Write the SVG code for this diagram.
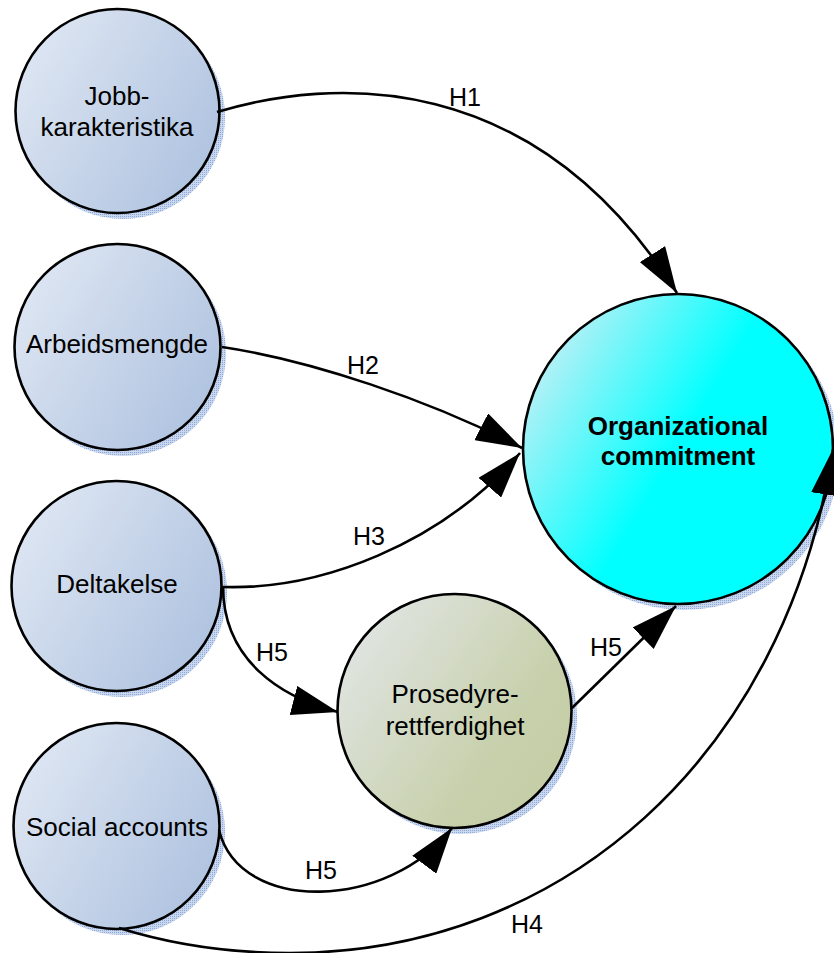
<svg xmlns="http://www.w3.org/2000/svg" width="834" height="953" viewBox="0 0 834 953">
<style>
.node{stroke:#000;stroke-width:2.6}
.shadow{fill:url(#dots);stroke:none}
.t{font-family:"Liberation Sans",Arial,sans-serif;font-size:26px;fill:#000;text-anchor:middle}
.tb{font-family:"Liberation Sans",Arial,sans-serif;font-size:26px;font-weight:bold;fill:#000;text-anchor:middle}
.lbl{font-family:"Liberation Sans",Arial,sans-serif;font-size:25px;fill:#000}
.edge{fill:none;stroke:#000;stroke-width:2.6;marker-end:url(#arr)}
</style>
<defs>
<pattern id="dots" width="2" height="2" patternUnits="userSpaceOnUse">
<rect width="2" height="2" fill="#c9d7ef"/>
<rect width="1" height="1" fill="#8ea8d8"/>
</pattern>
<linearGradient id="gBlue" x1="0" y1="0.2" x2="1" y2="0.8">
<stop offset="0" stop-color="#dfe7f3"/>
<stop offset="1" stop-color="#adc1df"/>
</linearGradient>
<linearGradient id="gCyan" x1="0.05" y1="0.15" x2="0.8" y2="0.6">
<stop offset="0" stop-color="#c6eff5"/>
<stop offset="0.65" stop-color="#00ffff"/>
<stop offset="1" stop-color="#00ffff"/>
</linearGradient>
<linearGradient id="gOlive" x1="0" y1="0.15" x2="1" y2="0.85">
<stop offset="0" stop-color="#e2e6e6"/>
<stop offset="0.7" stop-color="#c7d0ab"/>
<stop offset="1" stop-color="#c3cda5"/>
</linearGradient>
<marker id="arr" viewBox="0 0 46 30" refX="46" refY="15" markerWidth="46" markerHeight="30" markerUnits="userSpaceOnUse" orient="auto">
<path d="M0,0 L46,15 L0,30 z" fill="#000"/>
</marker>
</defs>

<g id="jobb">
<circle class="shadow" cx="123" cy="117" r="102"/>
<circle class="node" cx="117.5" cy="111" r="102" fill="url(#gBlue)"/>
<text class="t" x="117" y="105">Jobb-</text>
<text class="t" x="117" y="136">karakteristika</text>
</g>
<g id="arbeidsmengde">
<circle class="shadow" cx="123" cy="353" r="103"/>
<circle class="node" cx="117.5" cy="347" r="103" fill="url(#gBlue)"/>
<text class="t" x="117" y="353">Arbeidsmengde</text>
</g>
<g id="deltakelse">
<circle class="shadow" cx="122" cy="592" r="105"/>
<circle class="node" cx="116.5" cy="586" r="105" fill="url(#gBlue)"/>
<text class="t" x="117" y="593">Deltakelse</text>
</g>
<g id="social">
<circle class="shadow" cx="122" cy="832" r="103"/>
<circle class="node" cx="116.5" cy="826" r="103" fill="url(#gBlue)"/>
<text class="t" x="117" y="836">Social accounts</text>
</g>
<g id="prosedyre">
<circle class="shadow" cx="460" cy="717" r="117"/>
<circle class="node" cx="454.5" cy="711" r="117" fill="url(#gOlive)"/>
<text class="t" x="455" y="703">Prosedyre-</text>
<text class="t" x="455" y="735">rettferdighet</text>
</g>
<g id="org">
<circle class="shadow" cx="684" cy="455" r="155"/>
<circle class="node" cx="678" cy="449" r="155" fill="url(#gCyan)"/>
<text class="tb" x="678" y="435">Organizational</text>
<text class="tb" x="678" y="465">commitment</text>
</g>

<g id="connectors">
<path class="edge" d="M217,112 C330,78 533,65 677,293"/>
<path class="edge" d="M222,347 C310,360 430,400 522,448"/>
<path class="edge" d="M223,587 C320,590 440,545 520,453"/>
<path class="edge" d="M223,586 C223,660 280,697 338,712"/>
<path class="edge" d="M572,708 L676,606"/>
<path class="edge" d="M219,830 C240,915 390,910 452,828"/>
<path class="edge" d="M119,928 C180,947 240,953 290,953 C560,953 785,760 833,449"/>
<text class="lbl" x="449" y="106">H1</text>
<text class="lbl" x="347" y="374">H2</text>
<text class="lbl" x="353" y="545">H3</text>
<text class="lbl" x="256" y="661">H5</text>
<text class="lbl" x="590" y="656">H5</text>
<text class="lbl" x="305" y="879">H5</text>
<text class="lbl" x="511" y="933">H4</text>
</g>
</svg>
